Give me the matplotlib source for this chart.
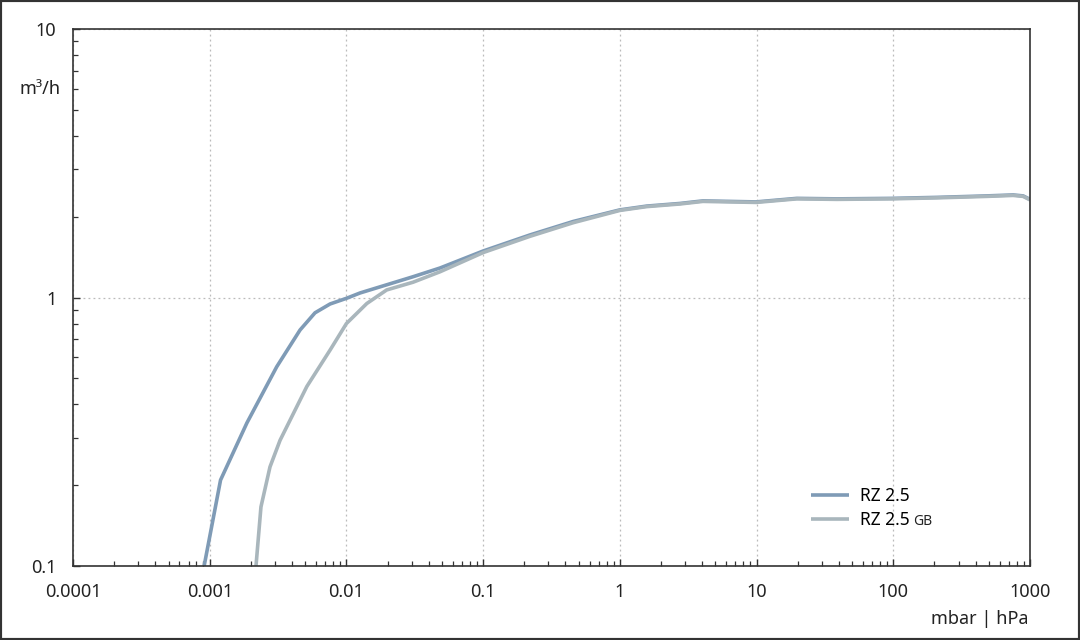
import matplotlib
matplotlib.use("Agg")
import matplotlib.pyplot as plt
from matplotlib.ticker import LogLocator, FixedLocator, FixedFormatter, NullFormatter
from matplotlib.patches import Rectangle
import matplotlib.transforms as mtransforms

plt.rcParams['font.family'] = ['Noto Sans', 'DejaVu Sans']

# Data (pressure in mbar, pumping speed in m3/h)
rz_x = [0.00091, 0.0012, 0.00187, 0.00309, 0.00458, 0.00589, 0.00759, 0.0100, 0.0126,
        0.0307, 0.0484, 0.1, 0.22, 0.457, 1.0, 1.57, 2.75, 4.05, 9.9, 19.7, 38.6,
        97.5, 208, 483, 753, 891, 1000]
rz_y = [0.1, 0.209, 0.341, 0.552, 0.757, 0.877, 0.946, 0.993, 1.04,
        1.195, 1.288, 1.49, 1.71, 1.92, 2.12, 2.19, 2.24, 2.29, 2.27, 2.34, 2.33,
        2.34, 2.36, 2.39, 2.41, 2.39, 2.32]
gb_x = [0.00218, 0.00237, 0.00276, 0.00327, 0.00513, 0.00759, 0.0100, 0.0141, 0.0197,
        0.0307, 0.0484, 0.1, 0.22, 0.457, 1.0, 1.57, 2.75, 4.05, 9.9, 19.7, 38.6,
        97.5, 208, 483, 753, 891, 1000]
gb_y = [0.1, 0.166, 0.234, 0.294, 0.466, 0.637, 0.80, 0.95, 1.067,
        1.14, 1.247, 1.47, 1.69, 1.90, 2.11, 2.18, 2.23, 2.28, 2.26, 2.33, 2.32,
        2.33, 2.35, 2.38, 2.40, 2.38, 2.31]

x_ticks = [0.0001, 0.001, 0.01, 0.1, 1, 10, 100, 1000]
x_labels = ['0.0001', '0.001', '0.01', '0.1', '1', '10', '100', '1000']
y_ticks = [0.1, 1, 10]
y_labels = ['0.1', '1', '10']

fig = plt.figure(figsize=(10.8, 6.4), dpi=100)
ax = fig.add_axes([0.0676, 0.1156, 0.8861, 0.8391])

ax.plot(rz_x, rz_y, color='#7f9bb6', lw=2.6, label='RZ 2.5', solid_capstyle='butt')
ax.plot(gb_x, gb_y, color='#a9b6bc', lw=2.6, label='RZ 2.5', solid_capstyle='butt')

ax.set_xscale('log')
ax.set_yscale('log')
ax.set_xlim(0.0001, 1000)
ax.set_ylim(0.1, 10)

ax.xaxis.set_major_locator(FixedLocator(x_ticks))
ax.xaxis.set_major_formatter(FixedFormatter(x_labels))
ax.xaxis.set_minor_locator(LogLocator(base=10, subs=range(2, 10), numticks=100))
ax.xaxis.set_minor_formatter(NullFormatter())
ax.yaxis.set_major_locator(FixedLocator(y_ticks))
ax.yaxis.set_major_formatter(FixedFormatter(y_labels))
ax.yaxis.set_minor_locator(LogLocator(base=10, subs=range(2, 10), numticks=100))
ax.yaxis.set_minor_formatter(NullFormatter())

ax.tick_params(which='major', direction='in', length=5, width=1, color='#333333',
               labelsize=13, labelcolor='#222222')
ax.tick_params(axis='x', which='major', pad=12)
ax.tick_params(axis='y', which='major', pad=12)
ax.tick_params(which='minor', direction='in', length=3.5, width=0.9, color='#333333')

for s in ax.spines.values():
    s.set_color('#333333')
    s.set_linewidth(1.2)

ax.grid(True, which='major', linestyle=(0, (1.5, 2.5)), color='#bbbbbb', lw=0.9)

trans = mtransforms.blended_transform_factory(ax.transAxes, ax.transData)
ax.text(-0.013, 6, 'm³/h', transform=trans, ha='right', va='center',
        fontsize=13, color='#222222')
ax.text(0.998, -0.098, 'mbar | hPa', transform=ax.transAxes, ha='right', va='center',
        fontsize=13, color='#222222')

leg = ax.legend(loc='lower left', bbox_to_anchor=(0.755, 0.04), frameon=False,
                fontsize=12.5, handlelength=2.2, handletextpad=0.6, labelspacing=0.35)

fig.canvas.draw()
txt = leg.get_texts()[1]
bb = txt.get_window_extent(fig.canvas.get_renderer())
inv = fig.transFigure.inverted()
x1, _ = inv.transform((bb.x1 + 4, bb.y0))
_, ybase = inv.transform(txt.get_transform().transform(txt.get_position()))
fig.text(x1, ybase, 'GB', fontsize=10, color='#222222', ha='left', va='baseline')

fig.patches.append(Rectangle((0, 0), 1, 1, transform=fig.transFigure, fill=False,
                             edgecolor='#333333', linewidth=3, zorder=10))

fig.savefig('out.png', dpi=100)
